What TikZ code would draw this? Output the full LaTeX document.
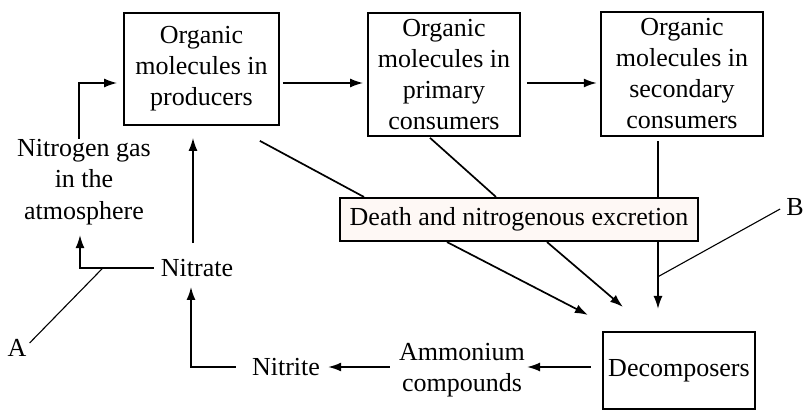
\documentclass[tikz,border=0pt]{standalone}
\usepackage{fontspec}
\setmainfont{Liberation Serif}
\usetikzlibrary{arrows.meta,calc}
\definecolor{deathfill}{RGB}{254,248,245}
\begin{document}
\begin{tikzpicture}[x=1pt,y=-1pt,
  txt/.style={font=\fontsize{26}{31}\selectfont,align=center},
  box/.style={txt,draw,line width=1.7pt,inner sep=0pt},
  lbl/.style={txt,inner sep=1pt},
  ln/.style={line width=1.7pt},
  thin/.style={line width=1.1pt},
  arr/.style={ln,-{Latex[length=13pt,width=9pt]}}]
\useasboundingbox (0,0) rectangle (804,412);
% boxes
\node[box,minimum width=155pt,minimum height=112pt] (prod) at (201.5,69) {Organic\\molecules in\\producers};
\node[box,minimum width=152pt,minimum height=123pt] (prim) at (444,74.5) {Organic\\molecules in\\primary\\consumers};
\node[box,line width=2.4pt,minimum width=162pt,minimum height=124pt] (sec) at (682,74) {Organic\\molecules in\\secondary\\consumers};
\node[box,line width=2.1pt,fill=deathfill,minimum width=358pt,minimum height=43pt] (death) at (519,219.5) {Death and nitrogenous excretion};
\node[box,line width=2.1pt,minimum width=152pt,minimum height=77pt] (decomp) at (679,370.5) {Decomposers};
% labels
\node[lbl,font=\fontsize{26}{31.5}\selectfont] (nitr) at (84,182) {Nitrogen gas\\in the\\atmosphere};
\node[lbl] (nitrate) at (197,268) {Nitrate};
\node[lbl] (nitrite) at (286,367) {Nitrite};
\node[lbl] (amm) at (462,370) {Ammonium\\compounds};
\node[lbl] (A) at (17,348) {A};
\node[lbl] (B) at (795,207) {B};
% connectors
\coordinate (row) at (0,83);
\draw[arr,shorten <=3pt,shorten >=4pt] (prod.east |- row) -- (prim.west |- row);
\draw[arr,shorten <=6pt,shorten >=3pt] (prim.east |- row) -- (sec.west |- row);
\draw[arr,shorten >=6pt] ([xshift=-5pt,yshift=-1pt]nitr.north) |- (prod.west |- row);
\draw[arr,shorten >=12pt] ([xshift=-4pt,yshift=15pt]nitrate.north) -- ([xshift=-4pt]nitrate.north |- prod.south);
\draw[arr] ([xshift=-6pt]nitrate.west) -- coordinate[pos=0.69] (ajoin) ([xshift=-4pt]nitr.south |- nitrate.west) -- ([xshift=-4pt,yshift=-9pt]nitr.south);
\draw[thin] (ajoin) -- ([xshift=2pt,yshift=5pt]A.east);
\draw[arr,shorten >=9pt] ([xshift=-15pt]nitrite.west) -| ([xshift=-6pt]nitrate.south);
\draw[arr,shorten <=8pt,shorten >=7pt] (amm.west |- nitrite.east) -- (nitrite.east);
\draw[arr,shorten <=11pt,shorten >=1pt] (decomp.west |- nitrite.east) -- (amm.east |- nitrite.east);
\draw[ln] ([xshift=-20pt,yshift=-15pt]prod.south east) -- ([xshift=25pt]death.north west);
\draw[ln] ([xshift=-14pt,yshift=-1pt]prim.south) -- ([xshift=-23pt]death.north);
\draw[ln] ([xshift=-24pt,yshift=-4pt]sec.south) -- ([xshift=-24pt]sec.south |- death.north);
\draw[arr] ([xshift=-72pt]death.south) -- ([xshift=-14pt,yshift=16pt]decomp.north west);
\draw[arr] ([xshift=28pt]death.south) -- ([xshift=21pt,yshift=24pt]decomp.north west);
\draw[arr,shorten >=22pt] ([xshift=-21pt]decomp.north |- death.south) -- coordinate[pos=0.39] (bjoin) ([xshift=-21pt]decomp.north);
\draw[thin] ([xshift=-5pt,yshift=-2pt]B.west) -- (bjoin);
\end{tikzpicture}
\end{document}
